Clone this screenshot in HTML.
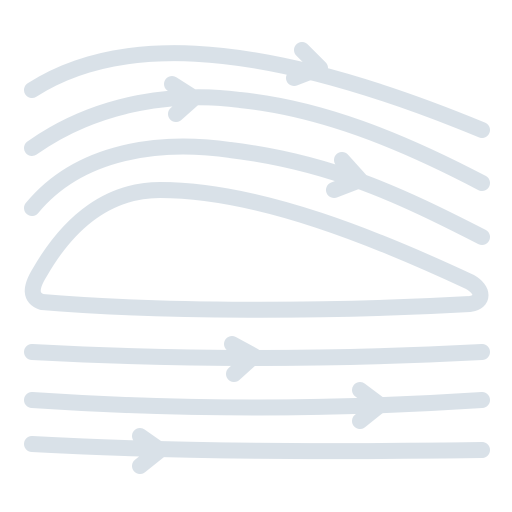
<!DOCTYPE html>
<html><head><meta charset="utf-8">
<style>html,body{margin:0;padding:0;background:#fff;}svg{display:block;}</style>
</head><body>
<svg width="512" height="512" viewBox="0 0 512 512">
<g fill="none" stroke="#d9e1e8" stroke-width="16" stroke-linecap="round" stroke-linejoin="round">
  <path d="M32 90 C110 40 240 30 482 130"/>
  <path d="M302 50 L320 68 L294 78"/>
  <path d="M32 148 C100 100 180 92 240 100 C320 108 400 140 482 183"/>
  <path d="M172 84 L194 98 L176 114"/>
  <path d="M32 208 C80 150 160 140 230 150 C330 162 400 195 482 237"/>
  <path d="M342 160 L360 180 L334 190"/>
  <path d="M42 302 C30 298 30 288 40 272 C70 220 110 190 160 190 C260 190 380 240 470 282 C484 290 484 302 470 304 C330 312 160 312 42 302 Z"/>
  <path d="M32 352 C180 360 330 360 482 352"/>
  <path d="M232 344 L254 356 L234 374"/>
  <path d="M32 400 C180 410 330 410 482 400"/>
  <path d="M360 390 L380 405 L360 421"/>
  <path d="M32 444 C180 452 330 452 482 450"/>
  <path d="M140 436 L160 450 L140 466"/>
</g>
</svg>
</body></html>
